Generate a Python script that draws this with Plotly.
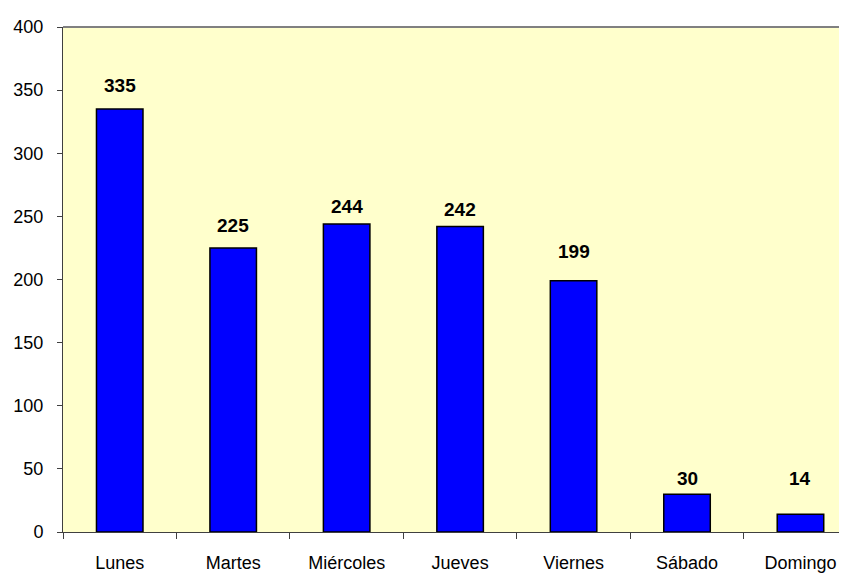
import plotly.graph_objects as go

categories = ["Lunes", "Martes", "Miércoles", "Jueves", "Viernes", "Sábado", "Domingo"]
values = [335, 225, 244, 242, 199, 30, 14]
y_ticks = [0, 50, 100, 150, 200, 250, 300, 350, 400]

# label offsets above bar tops, in pixels (styling)
label_shift_px = [24, 22, 17, 17, 29, 16, 36]

fig = go.Figure()
fig.add_trace(go.Bar(
    x=categories, y=values,
    marker=dict(color="#0000FF", line=dict(color="#000000", width=1.5)),
    hoverinfo="x+y",
))

for c, v, s in zip(categories, values, label_shift_px):
    fig.add_annotation(x=c, y=v, text=f"<b>{v}</b>", showarrow=False,
                       yanchor="middle", yshift=s,
                       font=dict(family="Liberation Sans, Arial", size=19, color="#000000"))

fig.add_shape(type="line", xref="paper", yref="paper", x0=0, x1=1, y0=1, y1=1,
              line=dict(color="#808080", width=2))

# page body has an 8px default margin, so the figure is offset by 8px
fig.update_layout(
    width=839, height=567,
    margin=dict(l=55, r=0, t=19, b=43, autoexpand=False),
    paper_bgcolor="#FFFFFF",
    plot_bgcolor="#FFFFCC",
    bargap=0.59,
    showlegend=False,
    font=dict(family="Liberation Sans, Arial", size=18, color="#000000"),
    xaxis=dict(
        range=[-0.5, 6.41], automargin=False,
        showgrid=False, zeroline=False,
        showline=True, linecolor="#404040", linewidth=1,
        ticks="outside", ticklen=6, tickcolor="#404040", tickson="boundaries",
        ticklabelstandoff=14,
        tickfont=dict(size=18),
    ),
    yaxis=dict(
        range=[0, 400], tickvals=y_ticks, automargin=False,
        showgrid=False, zeroline=False,
        showline=True, linecolor="#404040", linewidth=1,
        ticks="outside", ticklen=5, tickcolor="#404040",
        ticklabelstandoff=10,
        tickfont=dict(size=18),
    ),
)

fig.write_html("out.html")
